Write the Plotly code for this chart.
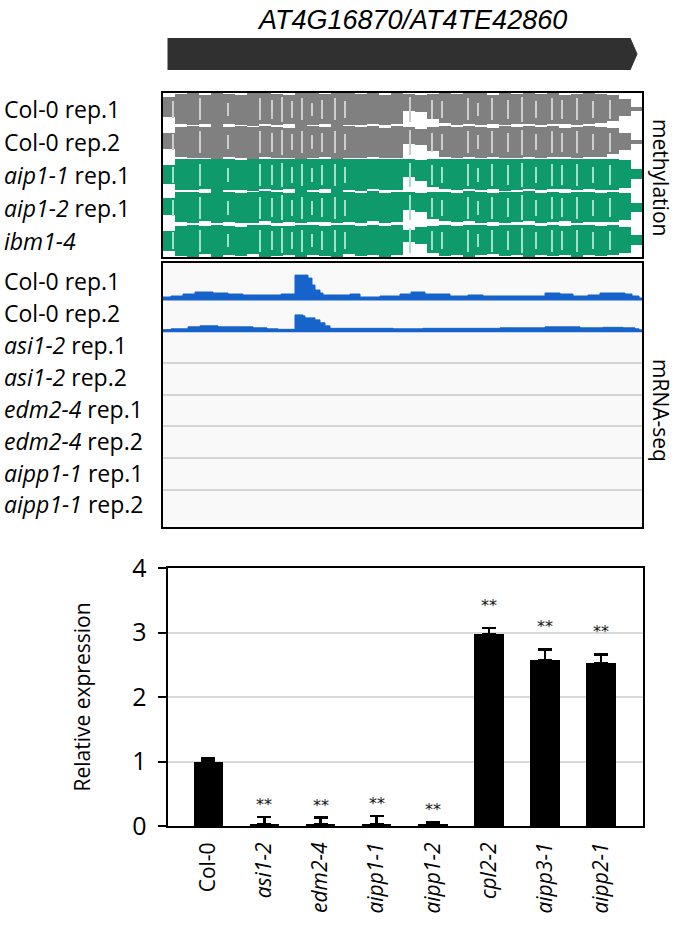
import plotly.graph_objects as go

W, H = 677, 928
FONT = "Open Sans"

# ---------------- data ----------------
gene_label = "AT4G16870/AT4TE42860"
region = [0, 479]
gene_start, gene_end = 5, 474

meth_labels = ["Col-0 rep.1", "Col-0 rep.2", "<i>aip1-1</i> rep.1", "<i>aip1-2</i> rep.1", "<i>ibm1-4</i>"]
meth_bins = [6, 18, 30, 42, 54, 66, 78, 90, 102, 114, 126, 138, 150, 162, 174, 186, 198, 210, 222, 234,
             246, 258, 270, 282, 294, 306, 318, 330, 342, 354, 366, 378, 390, 402, 414, 426, 438, 450, 462, 474]
col0_r1_up = [0.70, 0.92, 0.95, 0.86, 0.96, 0.93, 0.84, 0.95, 0.97, 0.90, 0.86, 0.96, 0.95, 0.88, 0.97, 0.95, 0.90, 0.96, 0.86, 0.94,
              0.92, 0.85, 0.93, 0.95, 0.88, 0.96, 0.94, 0.86, 0.95, 0.90, 0.96, 0.88, 0.94, 0.86, 0.93, 0.95, 0.88, 0.85, 0.60, 0.15]
col0_r1_dn = [0.45, 0.85, 0.93, 0.88, 0.95, 0.86, 0.90, 0.96, 0.85, 0.92, 0.88, 0.95, 0.90, 0.87, 0.96, 0.89, 0.93, 0.86, 0.92, 0.88,
              0.05, 0.10, 0.55, 0.80, 0.90, 0.85, 0.93, 0.86, 0.94, 0.88, 0.84, 0.92, 0.87, 0.85, 0.93, 0.86, 0.82, 0.70, 0.40, 0.05]
col0_r2_up = [0.55, 0.90, 0.95, 0.88, 0.97, 0.91, 0.94, 0.88, 0.96, 0.92, 0.86, 0.95, 0.93, 0.88, 0.96, 0.94, 0.89, 0.95, 0.86, 0.93,
              0.90, 0.80, 0.88, 0.94, 0.88, 0.95, 0.92, 0.86, 0.94, 0.90, 0.95, 0.88, 0.93, 0.86, 0.92, 0.94, 0.88, 0.82, 0.55, 0.12]
col0_r2_dn = [0.40, 0.88, 0.94, 0.90, 0.96, 0.88, 0.94, 0.97, 0.87, 0.94, 0.90, 0.96, 0.92, 0.89, 0.97, 0.91, 0.95, 0.88, 0.94, 0.90,
              0.10, 0.15, 0.50, 0.85, 0.92, 0.88, 0.94, 0.88, 0.95, 0.90, 0.86, 0.94, 0.89, 0.87, 0.94, 0.88, 0.84, 0.72, 0.45, 0.05]
aip11_up = [0.60, 0.95, 0.98, 0.92, 0.99, 0.96, 0.90, 0.98, 0.99, 0.95, 0.92, 0.99, 0.97, 0.93, 0.99, 0.97, 0.94, 0.99, 0.92, 0.97,
            0.95, 0.88, 0.96, 0.98, 0.92, 0.99, 0.96, 0.92, 0.98, 0.95, 0.99, 0.93, 0.97, 0.92, 0.96, 0.98, 0.93, 0.94, 0.88, 0.35]
aip11_dn = [0.50, 0.86, 0.90, 0.80, 0.92, 0.85, 0.90, 0.93, 0.80, 0.90, 0.84, 0.92, 0.88, 0.82, 0.93, 0.86, 0.91, 0.82, 0.90, 0.86,
            0.10, 0.35, 0.70, 0.82, 0.88, 0.80, 0.90, 0.82, 0.91, 0.86, 0.80, 0.90, 0.84, 0.80, 0.90, 0.82, 0.88, 0.86, 0.75, 0.25]
aip12_up = [0.55, 0.90, 0.94, 0.84, 0.96, 0.90, 0.84, 0.95, 0.96, 0.90, 0.86, 0.96, 0.93, 0.87, 0.96, 0.92, 0.88, 0.96, 0.86, 0.91,
            0.90, 0.84, 0.90, 0.95, 0.86, 0.96, 0.92, 0.86, 0.95, 0.91, 0.96, 0.88, 0.93, 0.86, 0.91, 0.95, 0.88, 0.92, 0.84, 0.30]
aip12_dn = [0.45, 0.86, 0.90, 0.80, 0.91, 0.83, 0.88, 0.92, 0.80, 0.88, 0.82, 0.91, 0.86, 0.81, 0.92, 0.84, 0.89, 0.80, 0.88, 0.84,
            0.12, 0.25, 0.65, 0.80, 0.86, 0.80, 0.88, 0.82, 0.90, 0.84, 0.80, 0.88, 0.83, 0.80, 0.88, 0.82, 0.86, 0.84, 0.72, 0.25]
ibm14_up = [0.55, 0.88, 0.92, 0.83, 0.94, 0.88, 0.82, 0.93, 0.94, 0.88, 0.84, 0.94, 0.91, 0.85, 0.94, 0.90, 0.86, 0.94, 0.84, 0.89,
            0.60, 0.80, 0.88, 0.93, 0.84, 0.94, 0.90, 0.84, 0.93, 0.89, 0.94, 0.86, 0.91, 0.84, 0.89, 0.93, 0.86, 0.90, 0.82, 0.30]
ibm14_dn = [0.60, 0.92, 0.94, 0.80, 0.95, 0.85, 0.92, 0.80, 0.94, 0.88, 0.82, 0.95, 0.85, 0.90, 0.94, 0.80, 0.92, 0.86, 0.94, 0.84,
            0.08, 0.20, 0.70, 0.92, 0.82, 0.94, 0.86, 0.80, 0.92, 0.84, 0.94, 0.82, 0.92, 0.84, 0.94, 0.86, 0.90, 0.86, 0.70, 0.25]
meth_up = [col0_r1_up, col0_r2_up, aip11_up, aip12_up, ibm14_up]
meth_dn = [col0_r1_dn, col0_r2_dn, aip11_dn, aip12_dn, ibm14_dn]
meth_group = ["Col-0", "Col-0", "aip1", "aip1", "aip1"]
unmeth_sites = [10, 37, 65, 97, 109, 119, 129, 139, 149, 159, 172, 182, 247, 269, 279,
                305, 315, 329, 345, 359, 373, 389, 399, 414, 430, 447]
unmeth_frac = [0.6, 0.8, 0.5, 0.8, 0.7, 0.9, 0.6, 0.8, 0.5, 0.7, 0.8, 0.6, 0.9, 0.7, 0.6,
               0.8, 0.5, 0.8, 0.7, 0.9, 0.6, 0.8, 0.7, 0.8, 0.6, 0.7]

rna_labels = ["Col-0 rep.1", "Col-0 rep.2", "<i>asi1-2</i> rep.1", "<i>asi1-2</i> rep.2",
              "<i>edm2-4</i> rep.1", "<i>edm2-4</i> rep.2", "<i>aipp1-1</i> rep.1", "<i>aipp1-1</i> rep.2"]
cov1_pos = [0, 8, 20, 32, 50, 65, 80, 100, 118, 132, 145, 149, 152, 157, 160, 175, 187, 197, 217, 237, 248, 262,
            287, 305, 320, 340, 360, 382, 397, 410, 425, 437, 452, 462, 469, 476, 479]
cov1_val = [2, 3, 5, 7, 6, 5, 4, 4, 5, 24, 21, 14, 9, 6, 4, 4, 5, 2, 3, 5, 7, 5,
            3, 4, 3, 3, 3, 6, 5, 3, 4, 6, 6, 5, 3, 0, 0]
cov2_pos = [0, 8, 25, 37, 55, 70, 90, 104, 115, 132, 140, 142, 152, 157, 162, 167, 190, 230, 260, 300, 337,
            360, 382, 400, 417, 440, 460, 472, 476, 479]
cov2_val = [1, 2, 4, 5, 4, 4, 3, 2, 1.5, 16, 15, 13, 11, 8, 5, 2.5, 2.5, 2, 2.5, 2.5, 3,
            3, 4, 4, 3, 3.5, 3, 2, 0, 0]
cov_pos = [cov1_pos, cov2_pos, [], [], [], [], [], []]
cov_val = [cov1_val, cov2_val, [], [], [], [], [], []]
cov_range = 32

genotypes = ["Col-0", "asi1-2", "edm2-4", "aipp1-1", "aipp1-2", "cpl2-2", "aipp3-1", "aipp2-1"]
rel_expr = [1.00, 0.02, 0.02, 0.02, 0.03, 2.97, 2.57, 2.52]
rel_err = [0.05, 0.12, 0.11, 0.135, 0.035, 0.10, 0.17, 0.14]
signif = ["", "**", "**", "**", "**", "**", "**", "**"]
y_ticks = [0, 1, 2, 3, 4]

# ---------------- styles ----------------
GRAY = "#808080"
GRAY_L = "#cdcdcd"
GREEN = "#0f9a6c"
GREEN_L = "#9fe2c8"
BLUE = "#1763cc"


def px_x(p):
    return p / W


def px_y(p):
    return 1 - p / H


TRK_L, TRK_R = 163, 642

fig = go.Figure()

# gene arrow
tip = 7
fig.add_trace(go.Scatter(
    x=[gene_start, gene_end - tip, gene_end, gene_end - tip, gene_start, gene_start],
    y=[1, 1, 0.5, 0, 0, 1], fill="toself", fillcolor="#303030", mode="lines",
    line=dict(color="#303030", width=1), xaxis="x", yaxis="y", hoverinfo="skip"))

# methylation tracks
n_m = len(meth_labels)
half = 0.52
for k in range(n_m):
    mid = n_m - k - 0.5
    col = GRAY if meth_group[k] == "Col-0" else GREEN
    coll = GRAY_L if meth_group[k] == "Col-0" else GREEN_L
    up = [min(u * half, 0.5) for u in meth_up[k]]
    dn = [min(d * half, 0.5) for d in meth_dn[k]]
    fig.add_trace(go.Bar(x=meth_bins, y=up, base=[mid] * len(up), width=12.2,
                         marker=dict(color=col, line=dict(width=0)), xaxis="x2", yaxis="y2", hoverinfo="skip"))
    fig.add_trace(go.Bar(x=meth_bins, y=dn, base=[mid - d for d in dn], width=12.2,
                         marker=dict(color=col, line=dict(width=0)), xaxis="x2", yaxis="y2", hoverinfo="skip"))
    fig.add_trace(go.Bar(x=unmeth_sites, y=[2 * f * 0.42 for f in unmeth_frac],
                         base=[mid - f * 0.42 for f in unmeth_frac], width=2.2,
                         marker=dict(color=coll, line=dict(width=0)), xaxis="x2", yaxis="y2", hoverinfo="skip"))

# mRNA-seq tracks
n_r = len(rna_labels)
for k in range(n_r):
    base = n_r - 1 - k
    if cov_pos[k]:
        fig.add_trace(go.Scatter(x=cov_pos[k], y=[base] * len(cov_pos[k]), mode="lines",
                                 line=dict(color=BLUE, width=3), xaxis="x3", yaxis="y3", hoverinfo="skip"))
        fig.add_trace(go.Scatter(x=cov_pos[k], y=[base + v / cov_range for v in cov_val[k]], mode="lines",
                                 line=dict(color=BLUE, width=1, shape="hv"), fill="tonexty", fillcolor=BLUE,
                                 xaxis="x3", yaxis="y3", hoverinfo="skip"))

# bar chart
xi = list(range(len(genotypes)))
fig.add_trace(go.Bar(x=xi, y=rel_expr, width=0.53, marker=dict(color="black", line=dict(width=0)),
                     error_y=dict(type="data", symmetric=False, array=rel_err, arrayminus=[0] * len(rel_err),
                                  color="black", thickness=2.5, width=7),
                     xaxis="x4", yaxis="y4", hoverinfo="skip"))

ann = []
for i, s in enumerate(signif):
    if s:
        top = rel_expr[i] + rel_err[i]
        ann.append(dict(x=i, y=top, xref="x4", yref="y4", text=s, showarrow=False, yanchor="bottom",
                        yshift=1 if top < 1 else 11, font=dict(family="DejaVu Sans", size=16, color="#111")))

# labels
for k, lab in enumerate(meth_labels):
    ann.append(dict(x=px_x(2), y=n_m - k - 0.5, xref="paper", yref="y2", text=lab, showarrow=False,
                    xanchor="left", yanchor="middle", font=dict(family=FONT, size=23, color="black")))
for k, lab in enumerate(rna_labels):
    ann.append(dict(x=px_x(2), y=n_r - k - 0.45, xref="paper", yref="y3", text=lab, showarrow=False,
                    xanchor="left", yanchor="middle", font=dict(family=FONT, size=23, color="black")))
ann.append(dict(x=px_x(412), y=px_y(20), xref="paper", yref="paper", text="<i>" + gene_label + "</i>",
                showarrow=False, xanchor="center", yanchor="middle",
                font=dict(family="Liberation Sans", size=27, color="black")))
ann.append(dict(x=px_x(661), y=px_y(177), xref="paper", yref="paper", text="methylation", textangle=90,
                showarrow=False, xanchor="center", yanchor="middle", font=dict(family=FONT, size=21, color="black")))
ann.append(dict(x=px_x(661), y=px_y(410), xref="paper", yref="paper", text="mRNA-seq", textangle=90,
                showarrow=False, xanchor="center", yanchor="middle", font=dict(family=FONT, size=21, color="black")))

hidden = dict(showgrid=False, zeroline=False, showticklabels=False, ticks="", automargin=False)
boxed = dict(showline=True, mirror=True, linecolor="black", linewidth=2)

fig.update_layout(
    width=W, height=H, margin=dict(l=0, r=0, t=0, b=0, autoexpand=False), paper_bgcolor="white",
    plot_bgcolor="rgba(0,0,0,0)",
    showlegend=False, barmode="overlay", bargap=0, annotations=ann,
    xaxis=dict(domain=[px_x(TRK_L), px_x(TRK_R)], range=region, anchor="y", **hidden),
    yaxis=dict(domain=[px_y(70), px_y(38)], range=[0, 1], anchor="x", **hidden),
    xaxis2=dict(domain=[px_x(TRK_L), px_x(TRK_R)], range=region, anchor="y2", **hidden, **boxed),
    yaxis2=dict(domain=[px_y(257), px_y(93)], range=[0, n_m], anchor="x2", **hidden, **boxed),
    xaxis3=dict(domain=[px_x(TRK_L), px_x(TRK_R)], range=region, anchor="y3", **hidden, **boxed),
    yaxis3=dict(domain=[px_y(527), px_y(263)], range=[-0.16, n_r + 0.13], anchor="x3",
                zeroline=False, showticklabels=False, ticks="", showgrid=True, automargin=False,
                tickvals=list(range(1, n_r)), gridcolor="#d4d4d4", gridwidth=1.5, **boxed),
    xaxis4=dict(domain=[px_x(168), px_x(643)], range=[-0.72, 7.75], anchor="y4", automargin=False,
                tickvals=xi, ticktext=[g if g == "Col-0" else "<i>" + g + "</i>" for g in genotypes],
                tickangle=-90, tickfont=dict(family=FONT, size=21, color="black"), ticks="",
                ticklabelstandoff=6, showgrid=False, zeroline=False, **boxed),
    yaxis4=dict(domain=[px_y(826), px_y(568)], range=[0, 4], anchor="x4", tickvals=y_ticks, automargin=False,
                ticktext=[f"{t} " for t in y_ticks],
                ticks="outside", ticklen=8, tickwidth=2, tickcolor="black",
                tickfont=dict(family=FONT, size=25, color="black"),
                title=dict(text="Relative expression", font=dict(family=FONT, size=21, color="black"), standoff=36),
                showgrid=True, gridcolor="#d9d9d9", gridwidth=2, zeroline=False, **boxed),
)
# light background for mRNA panel
fig.add_shape(type="rect", xref="x3", yref="y3", x0=region[0], x1=region[1], y0=-0.16, y1=n_r + 0.13,
              fillcolor="#f9f9f9", line=dict(width=0), layer="below")

fig.write_html("out.html", config={"displayModeBar": False},
               post_script="document.body.style.margin='0';document.body.style.overflow='hidden';")
